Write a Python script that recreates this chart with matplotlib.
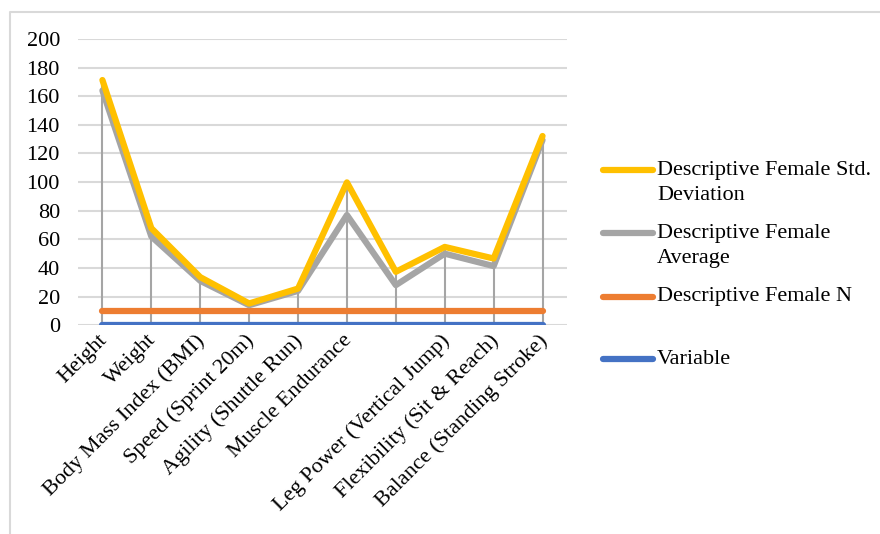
import numpy as np
from matplotlib import pyplot as plt
from matplotlib.lines import Line2D
import matplotlib.transforms as mtransforms

plt.rcParams['font.family'] = ['Liberation Serif', 'DejaVu Serif']

categories = ['Height', 'Weight', 'Body Mass Index (BMI)', 'Speed (Sprint 20m)',
              'Agility (Shuttle Run)', 'Muscle Endurance', '',
              'Leg Power (Vertical Jump)', 'Flexibility (Sit & Reach)',
              'Balance (Standing Stroke)']

# stacked series (Excel stacked line chart)
variable = [0, 0, 0, 0, 0, 0, 0, 0, 0, 0]
female_n = [10, 10, 10, 10, 10, 10, 10, 10, 10, 10]
female_avg = [154.0, 52.0, 21.0, 4.0, 14.0, 67.0, 18.0, 40.0, 31.3, 119.4]
female_std = [7.3, 5.8, 2.6, 1.2, 1.6, 22.8, 9.3, 4.7, 5.3, 2.8]

names = ['Descriptive Female Std.\nDeviation', 'Descriptive Female\nAverage',
         'Descriptive Female N', 'Variable']
colors = ['#FFC000', '#A5A5A5', '#ED7D31', '#4472C4']

FS = 16
W, H = 880, 534

x = np.arange(len(categories))
s_var = np.array(variable, dtype=float)
s_n = s_var + np.array(female_n)
s_avg = s_n + np.array(female_avg)
s_std = s_avg + np.array(female_std)

fig = plt.figure(figsize=(8.8, 5.34), dpi=100)
ax = fig.add_axes([0.0886, 0.391, 0.5557, 0.536])

ax.vlines(x, 0, s_std, color='#A5A5A5', lw=1.5, zorder=2)
ax.plot(x, s_var, color=colors[3], lw=4.5, zorder=3, solid_capstyle='round')
ax.plot(x, s_n, color=colors[2], lw=4.5, zorder=3, solid_capstyle='round')
ax.plot(x, s_avg, color=colors[1], lw=4.5, zorder=4, solid_capstyle='round')
ax.plot(x, s_std, color=colors[0], lw=4.5, zorder=5, solid_capstyle='round')

ax.set_xlim(-0.5, len(categories) - 0.5)
ax.set_ylim(0, 200)
ax.set_yticks(range(0, 201, 20))
ax.yaxis.grid(True, color='#D9D9D9', lw=1.5)
ax.set_axisbelow(True)
for sp in ax.spines.values():
    sp.set_visible(False)
ax.tick_params(axis='y', length=0, pad=13, labelsize=FS)
ax.tick_params(axis='x', length=0, pad=4, labelsize=FS)
ax.set_xticks(x)
ax.set_xticklabels(categories, rotation=45, ha='right', rotation_mode='anchor')
shift = mtransforms.ScaledTranslation(-5 / 100, 0, fig.dpi_scale_trans)
for lab in ax.get_xticklabels():
    lab.set_transform(lab.get_transform() + shift)

# legend, drawn by hand to mimic the Excel layout
leg_y = [170, 233, 297, 359]   # pixel rows from top
for name, col, yy in zip(names, colors, leg_y):
    yf = 1 - yy / H
    fig.add_artist(Line2D([603 / W, 653 / W], [yf, yf], color=col, lw=4.5,
                          solid_capstyle='round'))
    for i, line in enumerate(name.split('\n')):
        fig.text(657 / W, 1 - (yy + 25 * i) / H, line, fontsize=FS, va='center')

# chart frame
fig.add_artist(Line2D([10 / W, 10 / W, 1.0], [0.0, 1 - 12 / H, 1 - 12 / H],
                      color='#D9D9D9', lw=1.5))

fig.savefig('out.png', dpi=100)
